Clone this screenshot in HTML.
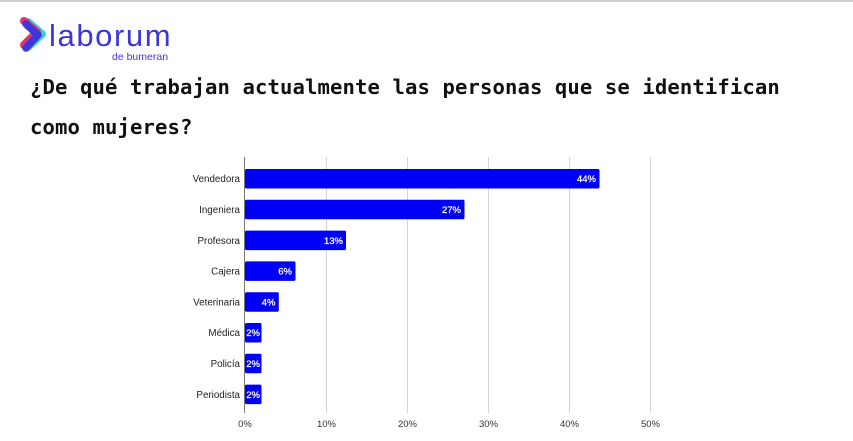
<!DOCTYPE html>
<html><head><meta charset="utf-8"><style>
html,body{margin:0;padding:0;background:#fff;}
body{width:853px;height:441px;position:relative;overflow:hidden;font-family:"Liberation Sans",Arial,sans-serif;}
.top{position:absolute;left:0;top:0;width:853px;height:2px;background:#cfcfcf;}
.title{position:absolute;left:30px;top:67px;font-family:"DejaVu Sans Mono","Liberation Mono",monospace;font-weight:bold;font-size:20.6px;letter-spacing:0.1px;line-height:40px;color:#111;white-space:nowrap;}
</style></head><body>
<div class="top"></div>
<svg width="853" height="441" style="position:absolute;left:0;top:0" xmlns="http://www.w3.org/2000/svg">
  <!-- logo chevron -->
  <path d="M25 22 L39 34 L25 47" fill="none" stroke="#35d3d8" stroke-width="8" stroke-linecap="round" stroke-linejoin="round" transform="translate(3,0)"/>
  <path d="M25 22 L38 33 L25 46" fill="none" stroke="#e5336a" stroke-width="8" stroke-linecap="round" stroke-linejoin="round" transform="translate(-1,-1)"/>
  <path d="M26 24 L38 35 L26 48" fill="none" stroke="#3f36dc" stroke-width="7.5" stroke-linecap="round" stroke-linejoin="round"/>
  <text x="49" y="46" font-family="Liberation Sans, sans-serif" font-size="31" fill="#3b36d6" letter-spacing="1.6">laborum</text>
  <text x="112" y="60" font-family="Liberation Sans, sans-serif" font-size="10.5" fill="#3b36d6">de bumeran</text>

  <!-- grid -->
  <g stroke="#d4d4d4" stroke-width="1">
    <line x1="326.5" y1="157" x2="326.5" y2="413"/>
    <line x1="407.5" y1="157" x2="407.5" y2="413"/>
    <line x1="488.5" y1="157" x2="488.5" y2="413"/>
    <line x1="569.5" y1="157" x2="569.5" y2="413"/>
    <line x1="650.5" y1="157" x2="650.5" y2="413"/>
  </g>
  <!-- bars -->
  <g fill="#0000f8">
    <rect x="245" y="169" width="354.5" height="19.5" rx="1.5"/>
    <rect x="245" y="199.8" width="219.5" height="19.5" rx="1.5"/>
    <rect x="245" y="230.6" width="101" height="19.5" rx="1.5"/>
    <rect x="245" y="261.4" width="50.5" height="19.5" rx="1.5"/>
    <rect x="245" y="292.2" width="33.8" height="19.5" rx="1.5"/>
    <rect x="245" y="323" width="16.5" height="19.5" rx="1.5"/>
    <rect x="245" y="353.8" width="16.5" height="19.5" rx="1.5"/>
    <rect x="245" y="384.6" width="16.5" height="19.5" rx="1.5"/>
  </g>
  <line x1="244.5" y1="157" x2="244.5" y2="413" stroke="#777" stroke-width="1"/>
  <!-- value labels -->
  <g font-family="Liberation Sans, sans-serif" font-size="9.5" fill="#fff" text-anchor="end" stroke="#fff" stroke-width="0.25">
    <text x="596" y="182">44%</text>
    <text x="461" y="213">27%</text>
    <text x="343" y="244">13%</text>
    <text x="292" y="274.5">6%</text>
    <text x="275.5" y="305.5">4%</text>
    <text x="260" y="336">2%</text>
    <text x="260" y="367">2%</text>
    <text x="260" y="398">2%</text>
  </g>
  <!-- category labels -->
  <g font-family="Liberation Sans, sans-serif" font-size="9.8" fill="#222" text-anchor="end">
    <text x="240" y="182">Vendedora</text>
    <text x="240" y="213">Ingeniera</text>
    <text x="240" y="244">Profesora</text>
    <text x="240" y="274.5">Cajera</text>
    <text x="240" y="305.5">Veterinaria</text>
    <text x="240" y="336">Médica</text>
    <text x="240" y="367">Policía</text>
    <text x="240" y="398">Periodista</text>
  </g>
  <!-- tick labels -->
  <g font-family="Liberation Sans, sans-serif" font-size="9.5" fill="#333" text-anchor="middle">
    <text x="245" y="427">0%</text>
    <text x="326.5" y="427">10%</text>
    <text x="407.5" y="427">20%</text>
    <text x="488.5" y="427">30%</text>
    <text x="569.5" y="427">40%</text>
    <text x="650.5" y="427">50%</text>
  </g>
</svg>
<div class="title">¿De qué trabajan actualmente las personas que se identifican<br>como mujeres?</div>
</body></html>
